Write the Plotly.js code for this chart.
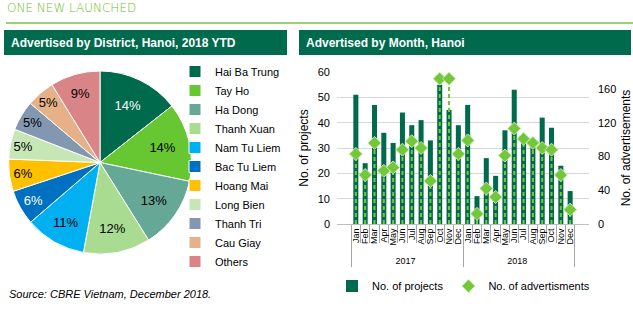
<!DOCTYPE html>
<html>
<head>
<meta charset="utf-8">
<script src="https://cdn.plot.ly/plotly-3.0.1.min.js"></script>
<style>html,body{margin:0;padding:0;background:#fff;}#chart{width:633px;height:330px;}</style>
</head>
<body>
<div id="chart"></div>
<script>
// ---- Data ----
const districts = ['Hai Ba Trung','Tay Ho','Ha Dong','Thanh Xuan','Nam Tu Liem','Bac Tu Liem','Hoang Mai','Long Bien','Thanh Tri','Cau Giay','Others'];
const districtShare = [14.4, 13.9, 12.8, 11.8, 10.8, 6.2, 5.7, 5.3, 5.3, 5.0, 8.8];
const districtColors = ['#006a4d','#66c733','#66a896','#a9dc91','#00b0f0','#0070c0','#ffc000','#c6e6b5','#8497b0','#e6b088','#d98487'];
const districtTextColors = ['#ffffff','#000000','#000000','#000000','#000000','#ffffff','#000000','#000000','#000000','#000000','#000000'];

const monthNames = ['Jan','Feb','Mar','Apr','May','Jun','Jul','Aug','Sep','Oct','Nov','Dec'];
const yearNames = ['2017','2018'];
const projects = [51,24,47,36,32,44,39,41,33,55,45,39, 47,11,26,19,37,53,34,33,42,38,23,13];
const adverts  = [83,58,96,63,67,88,98,90,51,172,172,83, 99,12,42,32,81,113,101,96,90,88,58,17];

// category arrays for multicategory axis
const xYears = [], xMonths = [];
yearNames.forEach(y => monthNames.forEach(m => { xYears.push(y); xMonths.push(m); }));

const W = 633, H = 330;
const px = v => v / W;
const py = v => (H - v) / H;

const dark = '#006a4d';
const light = '#72c73a';

const traces = [];
traces.push({
  type: 'pie',
  labels: districts,
  values: districtShare,
  sort: false,
  direction: 'clockwise',
  rotation: 0,
  marker: {colors: districtColors, line: {color: '#ffffff', width: 1}},
  texttemplate: '%{percent:.0%}',
  textposition: 'inside',
  insidetextorientation: 'horizontal',
  textfont: {family: 'Liberation Sans, Arial', size: 13, color: districtTextColors},
  domain: {x: [px(8), px(192)], y: [py(254), py(71)]},
  hoverinfo: 'label+percent',
  legend: 'legend',
  automargin: false
});

traces.push({
  type: 'bar',
  name: 'No. of projects',
  x: [xYears, xMonths],
  y: projects,
  marker: {color: dark},
  xaxis: 'x', yaxis: 'y',
  legend: 'legend2'
});

// drop lines for advertisements
for (let i = 0; i < adverts.length; i++) {
  traces.push({
    type: 'scatter', mode: 'lines',
    x: [[xYears[i], xYears[i]], [xMonths[i], xMonths[i]]],
    y: [0, adverts[i]],
    line: {color: light, width: 2, dash: '4px,3px'},
    xaxis: 'x', yaxis: 'y2',
    showlegend: false, hoverinfo: 'skip'
  });
}

traces.push({
  type: 'scatter', mode: 'markers',
  name: 'No. of advertisments',
  x: [xYears, xMonths],
  y: adverts,
  marker: {symbol: 'diamond', size: 10, color: light, line: {color: '#c9eaa9', width: 1}},
  xaxis: 'x', yaxis: 'y2',
  legend: 'legend2'
});

const font = 'Liberation Sans, Arial, sans-serif';
const layout = {
  width: W, height: H,
  margin: {l: 0, r: 0, t: 0, b: 0},
  paper_bgcolor: '#ffffff',
  plot_bgcolor: 'rgba(0,0,0,0)',
  font: {family: font, size: 11, color: '#000000'},
  showlegend: true,
  bargap: 0.46,
  xaxis: {
    type: 'multicategory',
    domain: [px(337), px(589)],
    anchor: 'y',
    tickmode: 'linear', tick0: 0, dtick: 1,
    tickangle: -90,
    tickfont: {size: 9},
    ticks: 'outside', ticklen: 18, tickcolor: '#a6a6a6',
    showline: true, linecolor: '#bfbfbf', linewidth: 1,
    showdividers: true, dividercolor: '#a6a6a6', dividerwidth: 1,
    showgrid: false, zeroline: false
  },
  yaxis: {
    domain: [py(224), py(72)],
    range: [0, 60], dtick: 10,
    showgrid: true, gridcolor: '#d9d9d9', gridwidth: 1,
    zeroline: false, showline: false,
    tickfont: {size: 11},
    ticklabelstandoff: 6,
    title: {text: 'No. of projects', font: {size: 12}, standoff: 6}
  },
  yaxis2: {
    overlaying: 'y', side: 'right', anchor: 'x',
    range: [0, 180], tickvals: [0, 40, 80, 120, 160],
    showgrid: false, zeroline: false, showline: false,
    tickfont: {size: 11},
    ticklabelstandoff: 8,
    title: {text: 'No. of advertisements', font: {size: 12}, standoff: 8}
  },
  legend: {
    x: px(175), y: py(57), xanchor: 'left', yanchor: 'top',
    font: {size: 11}, bgcolor: 'rgba(0,0,0,0)', traceorder: 'normal'
  },
  legend2: {
    orientation: 'h',
    x: px(332), y: py(286), xanchor: 'left', yanchor: 'middle',
    font: {size: 11}, bgcolor: 'rgba(0,0,0,0)'
  },
  shapes: [
    {type: 'line', xref: 'paper', yref: 'paper', x0: px(6), x1: 1, y0: py(23), y1: py(23), line: {color: '#7ac143', width: 1.5}},
    {type: 'rect', xref: 'paper', yref: 'paper', x0: px(4), x1: px(287), y0: py(55), y1: py(30), fillcolor: dark, line: {width: 0}, layer: 'below'},
    {type: 'rect', xref: 'paper', yref: 'paper', x0: px(299), x1: px(631), y0: py(55), y1: py(30), fillcolor: dark, line: {width: 0}, layer: 'below'}
  ],
  annotations: [
    {text: 'ONE NEW LAUNCHED', xref: 'paper', yref: 'paper', x: px(5), y: py(8), xanchor: 'left', yanchor: 'middle', showarrow: false, font: {family: 'DejaVu Sans, sans-serif', size: 12, color: '#6cbf2c', weight: 300}},
    {text: '<b>Advertised by District, Hanoi, 2018 YTD</b>', xref: 'paper', yref: 'paper', x: px(9), y: py(43), xanchor: 'left', yanchor: 'middle', showarrow: false, font: {family: font, size: 12, color: '#ffffff'}},
    {text: '<b>Advertised by Month, Hanoi</b>', xref: 'paper', yref: 'paper', x: px(304), y: py(43), xanchor: 'left', yanchor: 'middle', showarrow: false, font: {family: font, size: 12, color: '#ffffff'}},
    {text: '<i>Source: CBRE Vietnam, December 2018.</i>', xref: 'paper', yref: 'paper', x: px(7), y: py(294), xanchor: 'left', yanchor: 'middle', showarrow: false, font: {family: font, size: 11, color: '#000000'}}
  ]
};

Plotly.newPlot('chart', traces, layout, {displayModeBar: false, staticPlot: true});
</script>
</body>
</html>
